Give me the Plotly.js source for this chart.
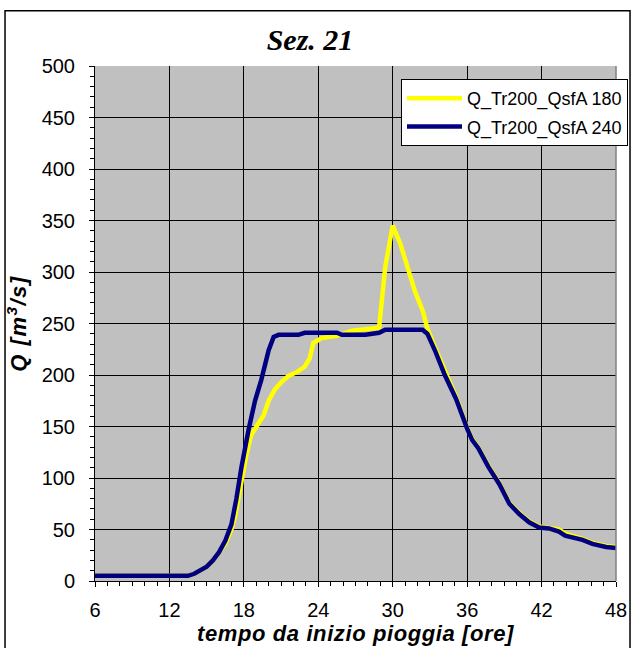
<!DOCTYPE html>
<html>
<head>
<meta charset="utf-8">
<script src="https://cdn.plot.ly/plotly-3.0.1.min.js"></script>
<style>
  html, body { margin: 0; padding: 0; background: #fff; }
  #chart { width: 631px; height: 648px; }
  /* slightly open spacing on the axis titles */
  #chart .xtitle { letter-spacing: 0.6px; }
  #chart .ytitle { letter-spacing: 1.5px; }
</style>
</head>
<body>
<div id="chart"></div>
<script>
// Hydrograph at section 21: discharge vs. time since start of rainfall
const seriesNames = ['Q_Tr200_QsfA 180', 'Q_Tr200_QsfA 240'];

// Q_Tr200_QsfA 180
const hours180 = [6, 7, 8, 9, 10, 11, 12, 13, 13.5, 14, 14.5, 15, 15.5, 16, 16.5, 17, 17.3, 17.8, 18.2, 18.6,
  19.2, 19.6, 20.0, 20.5, 21.1, 21.6, 22.3, 22.9, 23.3, 23.6, 24.3, 25.5, 26.7, 27.8, 28.9, 29.4,
  30.0, 30.6, 31.3, 31.8, 32.4, 32.8, 33.4, 34.2, 35.1, 36.0, 36.4, 36.9, 37.7, 38.6, 38.9, 39.4,
  40.2, 41.0, 41.8, 42.6, 43.4, 43.9, 45.3, 46.1, 47.2, 48];
const q180 = [5, 5, 5, 5, 5, 5, 5, 5, 5, 7, 10, 14, 20, 28, 36, 50, 63, 96, 122, 142,
  153, 161, 175, 186, 194, 199, 203, 208, 216, 231, 236, 238, 243, 245, 246, 305,
  345, 328, 299, 281, 263, 245, 227, 204, 179, 149, 138, 130, 112, 95, 87, 76,
  66, 58, 53, 52, 50, 46, 41, 37, 34, 33];

// Q_Tr200_QsfA 240
const hours240 = [6, 7, 8, 9, 10, 11, 12, 13, 13.5, 14, 14.5, 15, 15.5, 16, 16.5, 17, 17.4, 17.8, 18.4, 18.9,
  19.4, 20.0, 20.4, 20.8, 22.4, 22.9, 25.5, 25.9, 27.8, 28.9, 29.4, 32.4, 32.8, 33.4, 34.2, 35.1,
  36.0, 36.4, 36.9, 37.7, 38.6, 38.9, 39.4, 40.2, 41.0, 41.8, 42.6, 43.4, 43.9, 45.3, 46.1, 47.2, 48];
const q240 = [5, 5, 5, 5, 5, 5, 5, 5, 5, 7, 10, 14, 20, 28, 39, 55, 80, 110, 148, 175,
  195, 224, 237, 239, 239, 241, 241, 239, 239, 241, 244, 244, 240, 224, 200, 177,
  148, 137, 129, 111, 94, 86, 75, 65, 57, 52, 51, 48, 44, 40, 36, 33, 32];

const xTicks = [6, 12, 18, 24, 30, 36, 42, 48];
const yTicks = [0, 50, 100, 150, 200, 250, 300, 350, 400, 450, 500];

const tickFont = { family: 'Liberation Sans, Arial, sans-serif', size: 20, color: '#000' };
const axisTitleFont = { family: 'Liberation Sans, Arial, sans-serif', size: 22, color: '#000', weight: 'bold', style: 'italic' };

const traces = [
  { x: hours180, y: q180, name: seriesNames[0], legendgroup: 'a', type: 'scatter', mode: 'lines',
    line: { color: '#FFFF00', width: 4.5 } },
  { x: hours240, y: q240, name: seriesNames[1], legendgroup: 'b', type: 'scatter', mode: 'lines',
    line: { color: '#000080', width: 4.5 } }
];

const layout = {
  width: 631, height: 648,
  margin: { l: 95, r: 15, t: 66, b: 67, autoexpand: false },
  paper_bgcolor: '#ffffff',
  plot_bgcolor: '#C0C0C0',
  title: {
    text: 'Sez. 21',
    font: { family: 'Liberation Serif, Times New Roman, serif', size: 30, color: '#000', weight: 'bold', style: 'italic' },
    xref: 'container', yref: 'container', x: 310 / 631, xanchor: 'center', y: 1 - 39 / 648, yanchor: 'middle'
  },
  showlegend: true,
  legend: {
    xref: 'container', yref: 'container',
    x: 628 / 631, xanchor: 'right', y: 1 - 79 / 648, yanchor: 'top',
    bgcolor: '#ffffff', bordercolor: '#000', borderwidth: 1,
    font: { family: 'Liberation Sans, Arial, sans-serif', size: 18, color: '#000' },
    itemwidth: 55, tracegroupgap: 2
  },
  xaxis: {
    range: [6, 48], tickvals: xTicks, ticktext: xTicks.map(String),
    showgrid: true, gridcolor: '#000', gridwidth: 1,
    showline: true, linecolor: '#000', linewidth: 1, zeroline: false,
    ticks: 'outside', ticklen: 5, tickcolor: '#000',
    minor: { dtick: 1, tick0: 6, ticks: 'outside', ticklen: 4, tickcolor: '#000', showgrid: false },
    tickfont: tickFont, ticklabelstandoff: 6,
    title: { text: 'tempo da inizio pioggia [ore]', font: axisTitleFont, standoff: 2 }
  },
  yaxis: {
    range: [0, 500], tickvals: yTicks, ticktext: yTicks.map(String),
    showgrid: true, gridcolor: '#000', gridwidth: 1,
    showline: true, linecolor: '#000', linewidth: 1, zeroline: false,
    ticks: 'outside', ticklen: 5, tickcolor: '#000',
    minor: { dtick: 10, tick0: 0, ticks: 'outside', ticklen: 4, tickcolor: '#000', showgrid: false },
    tickfont: tickFont, ticklabelstandoff: 10,
    title: { text: 'Q [m<sup>3</sup>/s]', font: axisTitleFont, standoff: 8 }
  },
  shapes: [
    // outer chart frame
    { type: 'rect', xref: 'paper', yref: 'paper', x0: -0.1727, x1: 1.0269, y0: -0.3, y1: 1.1074,
      line: { color: '#000', width: 1.5 }, fillcolor: 'rgba(0,0,0,0)', layer: 'below' },
    // right edge of the plot area in grey
    { type: 'line', xref: 'paper', yref: 'paper', x0: 1, x1: 1, y0: 0, y1: 1,
      line: { color: '#808080', width: 1.5 } }
  ]
};

Plotly.newPlot('chart', traces, layout, { displayModeBar: false, staticPlot: true });
</script>
</body>
</html>
